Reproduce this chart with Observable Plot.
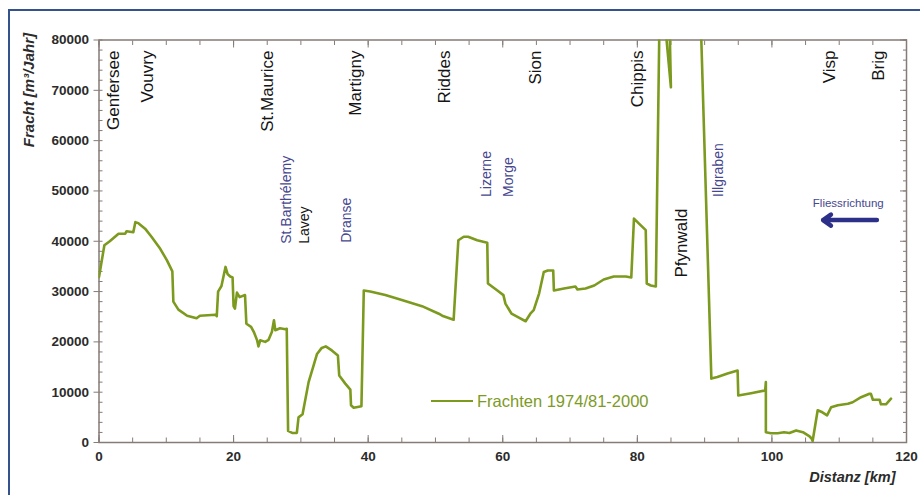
<!DOCTYPE html>
<html><head><meta charset="utf-8">
<script src="https://cdn.jsdelivr.net/npm/d3@7"></script>
<script src="https://cdn.jsdelivr.net/npm/@observablehq/plot@0.6"></script>
<style>
body{margin:0;background:#fff;font-family:"Liberation Sans",Arial,sans-serif;}
#wrap{position:relative;width:920px;height:495px;overflow:hidden;}
#border{position:absolute;left:8px;top:9px;width:960px;height:560px;border-left:2.5px solid #34528e;border-top:2.5px solid #34528e;pointer-events:none;}
#legend{position:absolute;left:431px;top:390px;height:22px;display:flex;align-items:center;white-space:nowrap;}
#legend .sw{display:inline-block;width:42px;height:2.5px;background:#7c9a1e;margin-right:4px;}
#legend .tx{font-size:16.5px;color:#7d9a26;}
#chart{position:absolute;left:0;top:0;}
</style></head>
<body>
<div id="wrap"><div id="chart"></div><div id="border"></div>
<div id="legend"><span class="sw"></span><span class="tx"></span></div></div>
<script>
// Distance along the Rhône (km) and sediment load (m³/Jahr)
const km = [0, 0.8, 1.6, 2.9, 3.9, 4.1, 5.1, 5.4, 5.85, 6.85, 7.8, 9.1, 10.1, 10.9, 11.05, 11.8, 13.1, 14.5, 15.0, 17.3, 17.5,
  17.7, 18.2, 18.8, 19.1, 19.5, 19.85, 20.0, 20.2, 20.5, 20.9, 21.7, 21.9, 22.6, 23.0, 23.5, 23.7, 23.95, 24.7, 25.2, 25.7, 26.0, 26.2, 26.9, 27.7,
  27.9, 28.1, 28.7, 29.4, 29.65, 30.25, 31.15, 31.75, 32.4, 33.1, 33.7, 34.6, 35.5, 35.7, 36.6, 37.35, 37.45, 37.85, 39.0,
  39.35, 40.3, 42.55, 45.0, 48.0, 50.5, 51.0, 52.7, 53.4, 54.2, 54.85, 56.2, 57.7, 57.8, 59.2, 60.1, 60.4, 61.3, 62.4, 63.4,
  64.1, 64.6, 65.4, 66.1, 66.7, 67.5, 67.6, 69.1, 70.8, 71.1, 72.3, 73.6, 75.0, 76.5, 78.3, 79.1, 79.5, 80.25, 81.25, 81.4, 82.0, 82.75,
  83.3, 84.0, 84.99, 84.76, 89.4, 91.0, 91.9, 93.4, 94.9, 95.0, 96.9, 99.0, 99.1, 99.1, 99.85, 100.85, 101.8, 102.6, 103.6, 104.6,
  105.6, 105.9, 106.05, 106.8, 107.5, 108.2, 108.8, 109.8, 111.3, 112.0, 113.25, 114.5, 114.7, 115.0, 116.0, 116.2, 116.95, 117.7];
const fracht = [32900, 39200, 40000, 41500, 41500, 42000, 41800, 43800, 43600, 42500, 40900, 38500, 36200, 34000, 28000, 26400, 25200, 24700, 25200, 25400, 25100,
  30000, 31100, 34900, 33500, 33000, 32800, 27100, 26600, 29800, 28900, 29300, 23600, 23000, 22000, 20300, 19100, 20300, 20000, 20400, 22000, 24300, 22300, 22700, 22500,
  22600, 2300, 1900, 1900, 5000, 5600, 12000, 14700, 17600, 18800, 19100, 18300, 17300, 13300, 11700, 10500, 7400, 6900, 7200,
  30200, 30000, 29300, 28300, 27100, 25600, 25200, 24400, 40200, 40900, 40900, 40200, 39700, 31600, 30200, 29300, 27600, 25600, 24800, 24100,
  25600, 26300, 29600, 33900, 34200, 34200, 30200, 30600, 31000, 30400, 30600, 31200, 32400, 33000, 33000, 32800, 44500, 43500, 42200, 31600, 31200, 31000,
  85000, 85000, 70600, 85000, 85000, 12700, 13000, 13700, 14300, 9350, 9800, 10350, 12000, 2050, 1850, 1850, 2050, 1900, 2400, 2050,
  1200, 800, 300, 6400, 6000, 5400, 7000, 7400, 7700, 8000, 9000, 9700, 9700, 8500, 8500, 7600, 7600, 8700];

// Places along the river (upper row, black)
const placeNames = ["Genfersee", "Vouvry", "St.Maurice", "Martigny", "Riddes", "Sion", "Chippis", "Visp", "Brig"];
const placeKm = [2.15, 7.15, 25.1, 38.1, 51.3, 64.9, 80.0, 108.5, 115.9];
// Tributaries / sites in the plot
const tribNames = ["St.Barthélemy", "Lavey", "Dranse", "Lizerne", "Morge", "Pfynwald", "Illgraben"];
const tribKm = [27.9, 30.55, 36.8, 57.6, 60.8, 86.6, 92.0];
const tribLevel = [39500, 39500, 39700, 48800, 48800, 32800, 48800];
const tribKind = ["river", "place", "river", "river", "river", "place", "river"];

const xTickLabels = [0, 20, 40, 60, 80, 100, 120];
const yTickLabels = [0, 10000, 20000, 30000, 40000, 50000, 60000, 70000, 80000];
const seriesName = "Frachten 1974/81-2000";
const flowText = "Fliessrichtung";
const flowKm = [115.6, 107.6];
const flowLevel = [44200, 47600];

const lineColor = "#7c9a1e";
const tickColor = "#857b77";
const blue = "#47478f";

const data = km.map((k, i) => ({km: k, v: fracht[i]}));
const places = placeNames.map((n, i) => ({n, km: placeKm[i]}));
const tribs = tribNames.map((n, i) => ({n, km: tribKm[i], v: tribLevel[i], kind: tribKind[i]}));

const minorX = d3.range(0, 121, 5);
const majorX = d3.range(0, 121, 20);
const minorY = d3.range(0, 80001, 2000);
const majorY = d3.range(0, 80001, 10000);

const chart = Plot.plot({
  width: 920, height: 495,
  marginLeft: 98.5, marginRight: 14, marginTop: 39.5, marginBottom: 53,
  style: {fontFamily: "'Liberation Sans', Arial, sans-serif", background: "transparent"},
  x: {domain: [0, 120]},
  y: {domain: [0, 80000]},
  marks: [
    Plot.axisX({anchor: "bottom", ticks: minorX, tickSize: -4.5, text: null, label: null, stroke: tickColor}),
    Plot.axisX({anchor: "bottom", ticks: majorX, tickSize: -7, text: null, label: null, stroke: tickColor}),
    Plot.axisX({anchor: "top", ticks: minorX, tickSize: -4.5, text: null, label: null, stroke: tickColor}),
    Plot.axisX({anchor: "top", ticks: majorX, tickSize: -7, text: null, label: null, stroke: tickColor}),
    Plot.axisX({anchor: "bottom", ticks: xTickLabels, tickSize: 0, tickPadding: 9, label: null,
      fontSize: 13.5, fontWeight: "bold", fill: "#2b2b2b", tickFormat: d => String(d)}),
    Plot.axisY({anchor: "left", ticks: minorY, tickSize: -4, text: null, label: null, stroke: tickColor}),
    Plot.axisY({anchor: "left", ticks: majorY, tickSize: 5, text: null, label: null, stroke: tickColor}),
    Plot.axisY({anchor: "right", ticks: minorY, tickSize: -4, text: null, label: null, stroke: tickColor}),
    Plot.axisY({anchor: "right", ticks: majorY, tickSize: -7, text: null, label: null, stroke: tickColor}),
    Plot.axisY({anchor: "left", ticks: yTickLabels, tickSize: 0, tickPadding: 10, label: null,
      fontSize: 13.5, fontWeight: "bold", fill: "#2b2b2b", tickFormat: d => String(d)}),
    Plot.frame({stroke: tickColor, strokeWidth: 1.5}),
    Plot.line(data, {x: "km", y: "v", stroke: lineColor, strokeWidth: 2.6, strokeLinejoin: "round", clip: true}),
    Plot.text(places, {x: "km", y: 77900, text: "n", rotate: -90, textAnchor: "end", fontSize: 17, fill: "#151515"}),
    Plot.text(tribs, {x: "km", y: "v", text: "n", rotate: -90, textAnchor: "start",
      fontSize: d => d.n === "Pfynwald" ? 17 : 14,
      fill: d => d.kind === "river" ? blue : "#151515"}),
    Plot.text([flowText], {x: (flowKm[0] + flowKm[1]) / 2 - 0.25, y: flowLevel[1], text: d => d, fontSize: 11.5, fill: blue}),
    Plot.arrow([0], {x1: flowKm[0], x2: flowKm[1], y1: flowLevel[0], y2: flowLevel[0], stroke: "#2c3089", strokeWidth: 4.5, headLength: 3.2, headAngle: 70}),
    Plot.text(["Fracht [m³/Jahr]"], {frameAnchor: "top-left", dx: -75.5, dy: -7, rotate: -90, textAnchor: "end",
      text: d => d, fontSize: 15, fontWeight: "bold", fontStyle: "italic", fill: "#2b2b2b"}),
    Plot.text(["Distanz [km]"], {frameAnchor: "bottom-right", dx: -11, dy: 39, textAnchor: "end",
      text: d => d, fontSize: 14.5, fontWeight: "bold", fontStyle: "italic", fill: "#2b2b2b"})
  ]
});
document.getElementById("chart").appendChild(chart);
document.querySelector("#legend .tx").textContent = seriesName;
</script>
</body></html>
